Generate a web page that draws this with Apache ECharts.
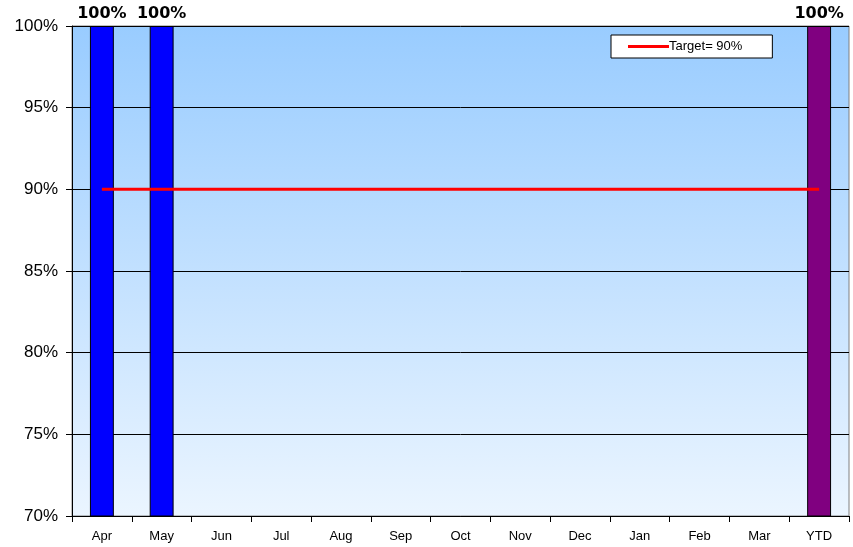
<!DOCTYPE html>
<html>
<head>
<meta charset="utf-8">
<script src="https://cdn.jsdelivr.net/npm/echarts@6/dist/echarts.min.js"></script>
<style>
  html, body { margin: 0; padding: 0; background: #fff; }
  #chart { width: 853px; height: 547px; }
</style>
</head>
<body>
<div id="chart"></div>
<script>
const months = ['Apr', 'May', 'Jun', 'Jul', 'Aug', 'Sep', 'Oct', 'Nov', 'Dec', 'Jan', 'Feb', 'Mar', 'YTD'];
const actual = [100, 100, null, null, null, null, null, null, null, null, null, null, 100];
const target = [90, 90, 90, 90, 90, 90, 90, 90, 90, 90, 90, 90, 90];
const barColors = ['#0000ff', '#0000ff', '#0000ff', '#0000ff', '#0000ff', '#0000ff', '#0000ff', '#0000ff', '#0000ff', '#0000ff', '#0000ff', '#0000ff', '#800080'];

const chart = echarts.init(document.getElementById('chart'));

chart.setOption({
  animation: false,
  textStyle: { fontFamily: 'Liberation Sans, Arial, sans-serif' },
  grid: {
    left: 72, right: 4, top: 26, bottom: 31,
    show: true,
    borderColor: '#808080',
    borderWidth: 1,
    backgroundColor: new echarts.graphic.LinearGradient(0, 0, 0, 1, [
      { offset: 0, color: '#99ccff' },
      { offset: 1, color: '#ebf5ff' }
    ])
  },
  legend: {
    data: [{ name: 'Target= 90%', icon: 'rect' }],
    left: 611, top: 35,
    backgroundColor: '#fff',
    borderColor: '#000',
    borderWidth: 1,
    borderRadius: 0,
    padding: [5, 30, 5, 17],
    itemWidth: 41,
    itemHeight: 3,
    itemGap: 0,
    textStyle: { fontSize: 13, color: '#000', padding: [0, 0, 0, -5] }
  },
  xAxis: {
    type: 'category',
    data: months,
    axisLine: { lineStyle: { color: '#000' } },
    axisTick: { show: true, length: 6, lineStyle: { color: '#000' } },
    axisLabel: { fontSize: 13, color: '#000', margin: 14 }
  },
  yAxis: {
    type: 'value',
    min: 70, max: 100, interval: 5,
    axisLine: { show: true, lineStyle: { color: '#000' } },
    axisTick: { show: true, length: 6, lineStyle: { color: '#000' } },
    splitLine: { lineStyle: { color: '#000', width: 1 } },
    axisLabel: { fontSize: 17, color: '#000', margin: 14, formatter: '{value}%' }
  },
  series: [
    {
      name: 'Actual',
      type: 'bar',
      barWidth: '40%',
      data: actual.map((v, i) => ({ value: v, itemStyle: { color: barColors[i] } })),
      itemStyle: { borderColor: '#000', borderWidth: 1 },
      label: {
        show: true, position: 'top', distance: 4,
        formatter: '{c}%',
        fontFamily: 'DejaVu Sans',
        fontSize: 16, fontWeight: 'bold', color: '#000'
      }
    },
    {
      name: 'Target= 90%',
      type: 'line',
      data: target,
      symbol: 'none',
      lineStyle: { color: '#ff0000', width: 3 },
      itemStyle: { color: '#ff0000' },
      z: 5
    }
  ]
});
</script>
</body>
</html>
